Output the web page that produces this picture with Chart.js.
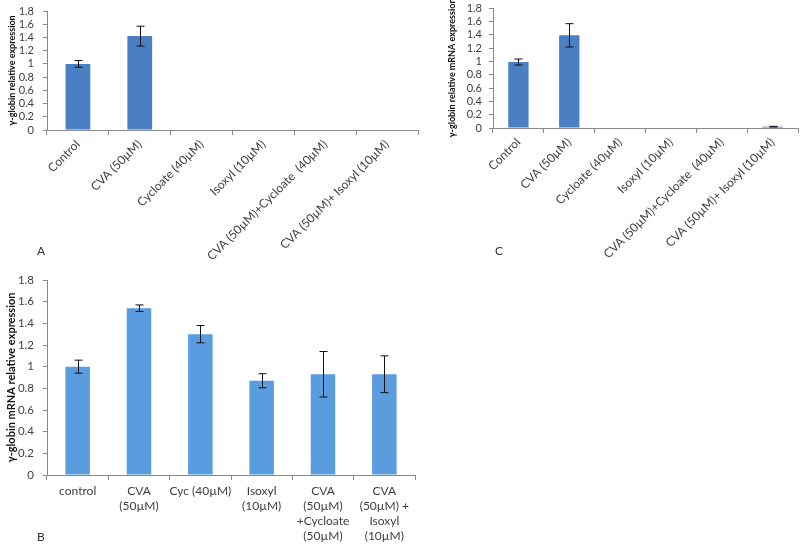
<!DOCTYPE html>
<html>
<head>
<meta charset="utf-8">
<script src="https://cdn.jsdelivr.net/npm/chart.js@4.4.1/dist/chart.umd.min.js"></script>
<style>
  body { margin: 0; background: #fff; width: 800px; height: 544px; position: relative; overflow: hidden; font-family: Lato, sans-serif; }
  .box { position: absolute; }
  .tag { position: absolute; font: 12px Lato, sans-serif; color: #333; }
</style>
</head>
<body>
<div class="box" style="left:0;top:0;width:420px;height:260px"><canvas id="chartA" width="420" height="260"></canvas></div>
<div class="box" style="left:420px;top:0;width:380px;height:260px"><canvas id="chartC" width="380" height="260"></canvas></div>
<div class="box" style="left:0;top:270px;width:420px;height:274px"><canvas id="chartB" width="420" height="274"></canvas></div>
<span class="tag" style="left:37px;top:243px">A</span>
<span class="tag" style="left:495px;top:243px">C</span>
<span class="tag" style="left:37px;top:529px">B</span>
<script>
// data ------------------------------------
const labelsTop = ["Control", "CVA (50µM)", "Cycloate (40µM)", "Isoxyl (10µM)", "CVA (50µM)+Cycloate  (40µM)", "CVA (50µM)+ Isoxyl (10µM)"];
const valuesA = [1.0, 1.42, 0, 0, 0, 0];
const errorsA = [0.05, 0.15, 0, 0, 0, 0];
const valuesC = [0.99, 1.39, 0, 0, 0, 0.02];
const errorsC = [0.045, 0.175, 0, 0, 0, 0.005];

const labelsB = ["control", ["CVA", "(50µM)"], "Cyc (40µM)", ["Isoxyl", "(10µM)"], ["CVA", "(50µM)", "+Cycloate", "(50µM)"], ["CVA", "(50µM) +", "Isoxyl", "(10µM)"]];
const valuesB = [1.0, 1.54, 1.30, 0.87, 0.93, 0.93];
const errorsB = [0.06, 0.03, 0.08, 0.065, 0.21, 0.17];

const yTicks = [0, 0.2, 0.4, 0.6, 0.8, 1, 1.2, 1.4, 1.6, 1.8];

// error bars plugin ----------------------
const errorBars = {
  id: "errorBars",
  afterDatasetsDraw(chart) {
    const errs = chart.options.plugins.errorBars.errors;
    const vals = chart.data.datasets[0].data;
    const y = chart.scales.y;
    const ctx = chart.ctx;
    ctx.save();
    ctx.strokeStyle = "#111";
    ctx.lineWidth = 1;
    chart.getDatasetMeta(0).data.forEach(function (bar, i) {
      if (!errs[i]) return;
      const x = Math.round(bar.x) + 0.5;
      const top = y.getPixelForValue(vals[i] + errs[i]);
      const bot = y.getPixelForValue(vals[i] - errs[i]);
      ctx.beginPath();
      ctx.moveTo(x, top); ctx.lineTo(x, bot);
      ctx.moveTo(x - 4, top); ctx.lineTo(x + 4, top);
      ctx.moveTo(x - 4, bot); ctx.lineTo(x + 4, bot);
      ctx.stroke();
    });
    ctx.restore();
  }
};

function makeChart(id, labels, values, errors, opts) {
  return new Chart(document.getElementById(id), {
    type: "bar",
    data: {
      labels: labels,
      datasets: [{
        data: values,
        backgroundColor: opts.color,
        categoryPercentage: 1,
        barPercentage: 0.4
      }]
    },
    plugins: [errorBars],
    options: {
      responsive: false,
      animation: false,
      layout: { padding: opts.padding },
      plugins: {
        legend: { display: false },
        tooltip: { enabled: false },
        errorBars: { errors: errors }
      },
      scales: {
        x: {
          grid: { display: true, drawOnChartArea: false, offset: true, tickLength: 5, color: "#8a8a8a" },
          border: { color: "#8a8a8a" },
          ticks: {
            autoSkip: false,
            minRotation: opts.rotation,
            maxRotation: opts.rotation,
            color: "#404040",
            padding: opts.xPad,
            font: { family: "Lato", size: 12, lineHeight: 1.25 }
          },
          afterFit: function (s) { s.height = opts.xHeight; }
        },
        y: {
          min: 0,
          max: 1.8,
          afterBuildTicks: function (s) { s.ticks = yTicks.map(v => ({ value: v })); },
          grid: { display: true, drawOnChartArea: false, tickLength: 4, color: "#8a8a8a" },
          border: { color: "#8a8a8a" },
          ticks: {
            autoSkip: false,
            color: "#404040",
            padding: opts.yPad,
            font: { family: "Lato", size: opts.yFont },
            callback: v => String(+v.toFixed(1))
          },
          title: {
            display: true,
            text: opts.title,
            color: "#111",
            font: { family: "Lato", size: opts.titleSize, weight: "bold" },
            padding: { top: opts.titleX, bottom: 0 }
          },
          afterFit: function (s) {
            s.width = opts.yWidth;
            // let the layout padding alone set the plot top
            s.paddingTop = 0;
            s.paddingBottom = 0;
          }
        }
      }
    }
  });
}

makeChart("chartA", labelsTop, valuesA, errorsA, {
  color: "#4a7fc4", padding: { top: 11, right: 2, left: 0, bottom: 0 },
  rotation: 45, xPad: 2, xHeight: 130, yWidth: 47, yFont: 11, yPad: 9,
  title: "γ-globin relative expression", titleSize: 9, titleX: 7
});

makeChart("chartC", labelsTop, valuesC, errorsC, {
  color: "#4a7fc4", padding: { top: 8, right: 2, left: 0, bottom: 0 },
  rotation: 45, xPad: 2, xHeight: 132, yWidth: 73, yFont: 11, yPad: 7,
  title: "γ-globin relative mRNA expression", titleSize: 9, titleX: 27
});

makeChart("chartB", labelsB, valuesB, errorsB, {
  color: "#5a9ddf", padding: { top: 10, right: 5, left: 0, bottom: 0 },
  rotation: 0, xPad: 4, xHeight: 69, yWidth: 47, yFont: 11.5, yPad: 9,
  title: "γ-globin mRNA relative expression", titleSize: 11, titleX: 5
});
</script>
</body>
</html>
